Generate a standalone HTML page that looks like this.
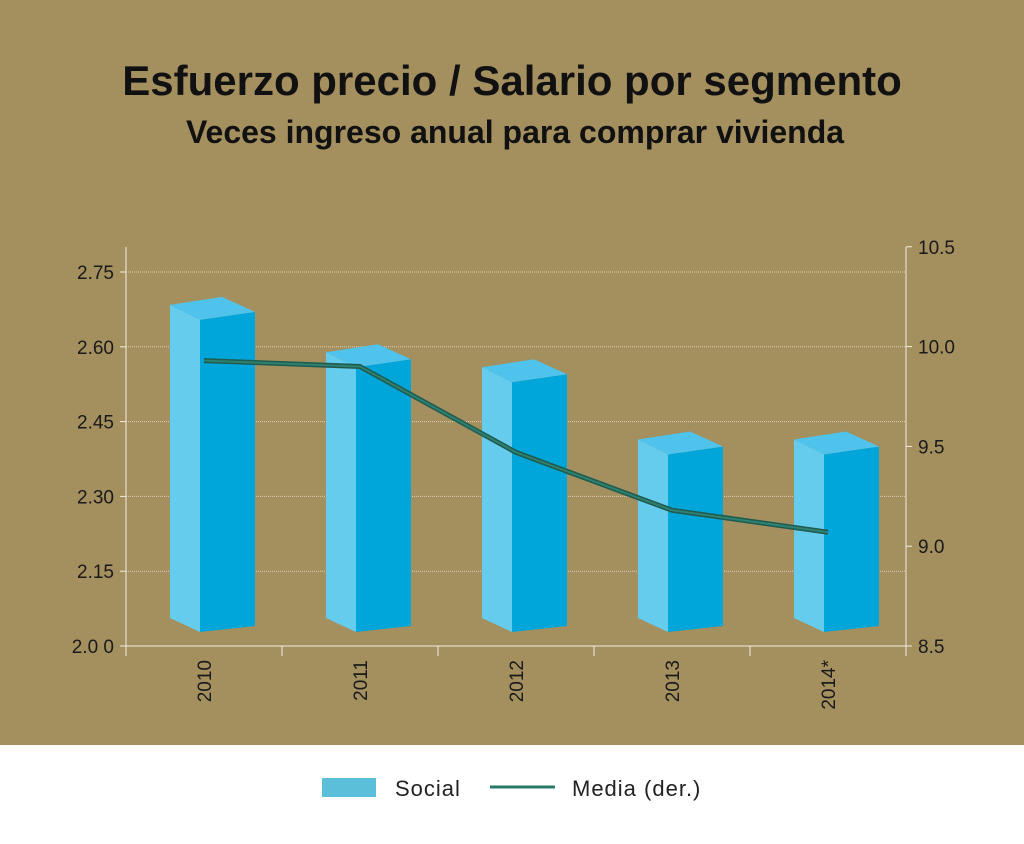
<!DOCTYPE html>
<html><head><meta charset="utf-8"><style>
body{margin:0;width:1024px;height:839px;overflow:hidden;font-family:"Liberation Sans",sans-serif}
</style></head><body>
<svg width="1024" height="839" xmlns="http://www.w3.org/2000/svg">
<rect x="0" y="0" width="1024" height="745" fill="#a48f5f"/>
<rect x="0" y="745" width="1024" height="94" fill="#ffffff"/>
<text x="512" y="95" text-anchor="middle" font-size="42" font-weight="bold" fill="#111">Esfuerzo precio / Salario por segmento</text>
<text x="515" y="143" text-anchor="middle" font-size="32" font-weight="bold" fill="#111">Veces ingreso anual para comprar vivienda</text>
<g id="plot"></g>
<g>
<rect x="322" y="778" width="54" height="19" fill="#5bbfd9"/>
<text x="395" y="796" font-size="22" fill="#222" letter-spacing="1">Social</text>
<line x1="490" y1="787" x2="555" y2="787" stroke="#2a7a6c" stroke-width="3"/>
<text x="572" y="796" font-size="22" fill="#222" letter-spacing="1">Media (der.)</text>
</g>
</svg>
<script>
const categories=["2010","2011","2012","2013","2014*"];
const socialValues=[2.67,2.575,2.545,2.40,2.40];
const mediaValues=[9.93,9.9,9.47,9.18,9.07];
const leftTicks=["2.00","2.15","2.30","2.45","2.60","2.75"];
const rightTicks=["8.5","9.0","9.5","10.0","10.5"];
const NS="http://www.w3.org/2000/svg";
const g=document.getElementById('plot');
const X0=126,X1=906,BOT=646;
const yL=v=>BOT-(v-2.0)/0.15*74.8;
const yR=v=>BOT-(v-8.5)/0.5*99.8;
const bw=(X1-X0)/categories.length;
const xC=i=>X0+bw*(i+0.5);
function mk(t,a){const e=document.createElementNS(NS,t);for(const k in a)e.setAttribute(k,a[k]);g.appendChild(e);return e;}
leftTicks.forEach(t=>{const v=parseFloat(t);if(v===2.0)return;
 const l=mk('line',{x1:X0,x2:X1,y1:yL(v),y2:yL(v),stroke:'#d9cfb3','stroke-width':1,'stroke-dasharray':'1,1'});
 
 });
let a=mk('line',{x1:X0,x2:X0,y1:247,y2:BOT,stroke:'#f2eee0','stroke-width':1});


a=mk('line',{x1:X1,x2:X1,y1:247,y2:BOT,stroke:'#f2eee0','stroke-width':1});


a=mk('line',{x1:X0,x2:X1,y1:BOT,y2:BOT,stroke:'#f2eee0','stroke-width':1});


leftTicks.forEach(t=>{const y=yL(parseFloat(t));
 mk('line',{x1:X0-6,x2:X0,y1:y,y2:y,stroke:'#f2eee0'});
 const e=mk('text',{x:X0-12,y:y+7,'text-anchor':'end','font-size':19,fill:'#1a1a1a'});e.textContent=t==="2.00"?"2.0 0":t;
 
 });
rightTicks.forEach(t=>{const y=yR(parseFloat(t));
 mk('line',{x1:X1,x2:X1+6,y1:y,y2:y,stroke:'#f2eee0'});
 const e=mk('text',{x:X1+12,y:y+7,'font-size':19,fill:'#1a1a1a'});e.textContent=t;
 
 });
for(let i=0;i<=categories.length;i++){mk('line',{x1:X0+bw*i,x2:X0+bw*i,y1:BOT,y2:BOT+10,stroke:'#f2eee0'});}
categories.forEach((c,i)=>{const x=xC(i);
 const e=mk('text',{x:0,y:0,'text-anchor':'end','font-size':19,fill:'#1a1a1a',transform:`translate(${x+7},${BOT+14}) rotate(-90)`});e.textContent=c;
 
 });
socialValues.forEach((v,i)=>{const c=xC(i),Y=yL(v);
 const side=mk('polygon',{points:`${c-34},${Y-7} ${c-4},${Y+8} ${c-4},${632} ${c-34},${618}`,fill:'#66ccee'});
 
 
 const front=mk('polygon',{points:`${c-4},${Y+8} ${c+51},${Y} ${c+51},${626} ${c-4},${632}`,fill:'#00a6da'});
 
 
 const top=mk('polygon',{points:`${c-34},${Y-7} ${c+18},${Y-15} ${c+51},${Y} ${c-4},${Y+8}`,fill:'#4fc3ec'});
 
 });
const pts=mediaValues.map((v,i)=>`${xC(i)},${yR(v)}`).join(' ');
const ln=mk('polyline',{points:pts,fill:'none',stroke:'#1f5b4e','stroke-width':5,'stroke-linejoin':'round'});


const ln2=mk('polyline',{points:pts,fill:'none',stroke:'#2e8070','stroke-width':2});


</script>
</body></html>
